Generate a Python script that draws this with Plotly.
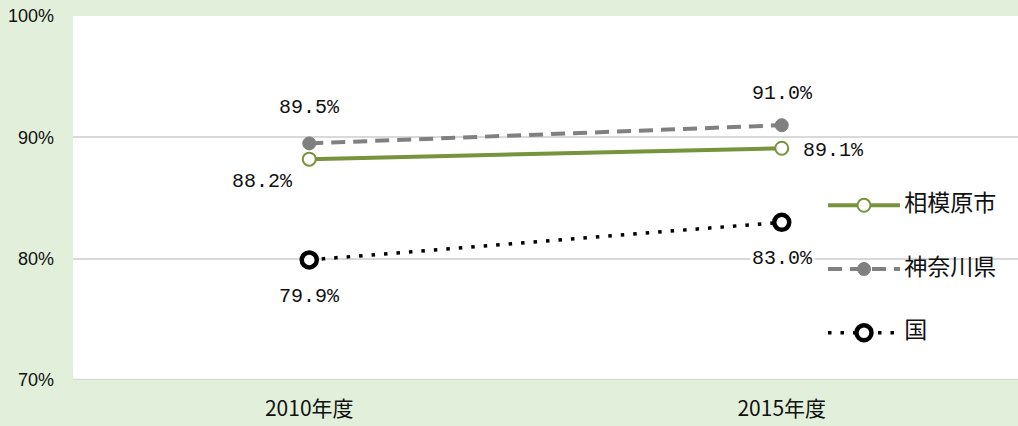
import plotly.graph_objects as go

# Survey years and rates (%)
years = ["2010年度", "2015年度"]
sagamihara = [88.2, 89.1]
kanagawa = [89.5, 91.0]
kuni = [79.9, 83.0]

series_names = ["相模原市", "神奈川県", "国"]
y_ticks = [70, 80, 90, 100]
y_tick_text = ["70%", "80%", "90%", "100%"]

GREEN = "#77933C"
GRAY = "#808080"
BLACK = "#000000"
BG = "#E2EFDA"

LABEL_FONT = dict(family="Liberation Mono, DejaVu Sans Mono, monospace", size=20, color="#111111")
TICK_FONT = dict(family="Liberation Sans, Arial, sans-serif", size=18, color="#111111")
CJK_FONT = dict(family="Noto Sans CJK JP, Liberation Sans, sans-serif", size=23, color="#111111")

styles = {
    "相模原市": dict(line=dict(color=GREEN, width=4),
                 marker=dict(symbol="circle", size=13, color="white",
                             line=dict(color=GREEN, width=2))),
    "神奈川県": dict(line=dict(color=GRAY, width=4, dash="14px,8px"),
                 marker=dict(symbol="circle", size=13, color=GRAY,
                             line=dict(color=GRAY, width=1))),
    "国": dict(line=dict(color=BLACK, width=3.5, dash="3.5px,9px"),
              marker=dict(symbol="circle", size=15, color="white",
                          line=dict(color=BLACK, width=4.5))),
}
values = {"相模原市": sagamihara, "神奈川県": kanagawa, "国": kuni}

fig = go.Figure()
xi = list(range(len(years)))
for name in ["国", "神奈川県", "相模原市"]:
    fig.add_trace(go.Scatter(x=xi, y=values[name], mode="lines+markers",
                             name=name, showlegend=False, **styles[name]))

# data labels: (series, index, xshift, yshift, background)
label_pos = [
    ("相模原市", 0, -47, -22, None),
    ("相模原市", 1, 52, -2, None),
    ("神奈川県", 0, 0, 36, None),
    ("神奈川県", 1, 1, 32, None),
    ("国", 0, 0, -37, None),
    ("国", 1, 1, -36, "white"),
]
for name, i, dx, dy, bg in label_pos:
    v = values[name][i]
    fig.add_annotation(x=xi[i], y=v, xref="x", yref="y", text=f"{v:.1f}%",
                       showarrow=False, xshift=dx, yshift=dy, font=LABEL_FONT,
                       bgcolor=bg, borderpad=1)

# legend drawn on overlay axes: one unit on x2 = length of a legend sample line
leg_rows = [0.48, 0.305, 0.13]
for name, yy in zip(series_names, leg_rows):
    st = styles[name]
    fig.add_trace(go.Scatter(x=[0, 1], y=[yy, yy], mode="lines", line=st["line"],
                             xaxis="x2", yaxis="y2", showlegend=False, hoverinfo="skip"))
    fig.add_trace(go.Scatter(x=[0.5], y=[yy], mode="markers", marker=st["marker"],
                             xaxis="x2", yaxis="y2", showlegend=False, hoverinfo="skip"))
    fig.add_trace(go.Scatter(x=[1.06], y=[yy], mode="text", text=[name],
                             textposition="middle right", textfont=CJK_FONT,
                             xaxis="x2", yaxis="y2", showlegend=False, hoverinfo="skip",
                             cliponaxis=False))

fig.update_layout(
    width=1018, height=426,
    margin=dict(l=73, r=0, t=16, b=46),
    paper_bgcolor=BG, plot_bgcolor="white",
    xaxis=dict(range=[-0.5, 1.5], tickvals=xi, ticktext=years, showgrid=False,
               zeroline=False, showline=False, ticks="", tickfont=CJK_FONT | dict(size=21),
               ticklabelstandoff=14, fixedrange=True),
    yaxis=dict(range=[70, 100], tickvals=y_ticks, ticktext=y_tick_text,
               showgrid=True, gridcolor="#D9D9D9", gridwidth=2, zeroline=False,
               showline=False, ticks="", tickfont=TICK_FONT, ticklabelstandoff=18,
               fixedrange=True),
    xaxis2=dict(range=[-10.486, 2.639], overlaying="x", visible=False, fixedrange=True),
    yaxis2=dict(range=[0, 1], overlaying="y", visible=False, fixedrange=True),
    showlegend=False,
)
# bottom axis line at 70%
fig.add_shape(type="line", xref="paper", yref="y", x0=0, x1=1, y0=70, y1=70,
              line=dict(color="#D9D9D9", width=2.5), layer="below")

fig.write_html("out.html")
